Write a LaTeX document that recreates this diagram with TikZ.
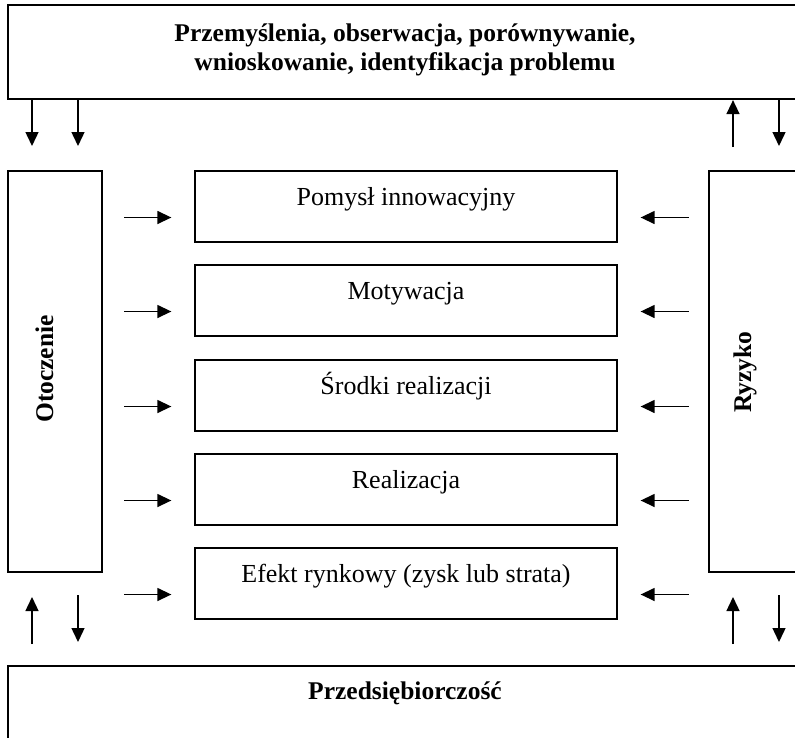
\documentclass[tikz,border=0pt]{standalone}
\usepackage{fontspec}
\setmainfont{Liberation Serif}
\usetikzlibrary{arrows.meta,calc}
\begin{document}
\begin{tikzpicture}[x=1pt,y=-1pt,
  outerbox/.style={draw, line width=2.2pt, inner sep=0pt},
  midbox/.style={draw, line width=1.3pt, minimum width=422pt, inner xsep=0pt,
    inner ysep=0pt, text height=34pt, text depth=37pt, font=\fontsize{26}{30}\selectfont},
  boldtxt/.style={font=\fontsize{25.5}{29}\selectfont\bfseries, align=center, inner sep=0pt},
  arr/.style={line width=1.4pt, -{Triangle[length=14pt,width=13pt]}}]
\useasboundingbox (0,0) rectangle (795,737);
% outer boxes
\node[outerbox, minimum width=800pt, minimum height=94pt] (top) at (408,52) {};
\node[boldtxt] (toptxt) at (405,50) {Przemyślenia, obserwacja, porównywanie,\\wnioskowanie, identyfikacja problemu};
\node[outerbox, minimum width=800pt, minimum height=90pt] (bot) at (408,711) {};
\node[boldtxt, anchor=base] (bottxt) at (405,699) {Przedsiębiorczość};
\node[outerbox, minimum width=94pt, minimum height=401pt] (left) at (55,371.5) {};
\node[boldtxt, rotate=90, anchor=base] (lefttxt) at (53,369) {Otoczenie};
\node[outerbox, minimum width=100pt, minimum height=401pt] (right) at (759,371.5) {};
\node[boldtxt, rotate=90, anchor=base] (righttxt) at (751,372) {Ryzyko};
% middle boxes
\node[midbox] (m1) at (406,206.5) {Pomysł innowacyjny};
\node[midbox] (m2) at (406,300.5) {Motywacja};
\node[midbox] (m3) at (406,395.5) {Środki realizacji};
\node[midbox] (m4) at (406,489.5) {Realizacja};
\node[midbox] (m5) at (406,583.5) {Efekt rynkowy (zysk lub strata)};
% side arrows
\foreach \m in {m1,m2,m3,m4,m5}{
  \draw[arr] ($(\m.west)+(-70,11)$) -- ($(\m.west)+(-23,11)$);
  \draw[arr] ($(\m.east)+(71,11)$) -- ($(\m.east)+(23,11)$);
}
% vertical arrows at top
\draw[arr] (top.south -| 32,0) -- (32,146);
\draw[arr] (top.south -| 78,0) -- (78,146);
\draw[arr] (733,147) -- (top.south -| 733,0);
\draw[arr] (top.south -| 779,0) -- (779,146);
% vertical arrows at bottom
\draw[arr] (32,644) -- (32,597);
\draw[arr] (78,595) -- (78,642);
\draw[arr] (733,644) -- (733,597);
\draw[arr] (779,595) -- (779,642);
\end{tikzpicture}
\end{document}
